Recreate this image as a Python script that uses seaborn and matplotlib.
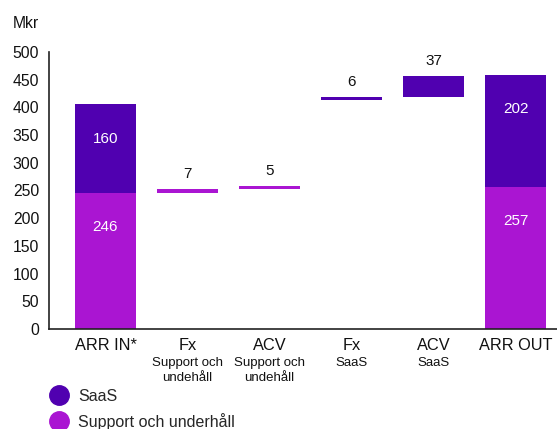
#%% Packages
import matplotlib
matplotlib.use("Agg")
import matplotlib.pyplot as plt
from matplotlib.lines import Line2D
import seaborn as sns
import pandas as pd

#%% Data
cat_keys = ["arr_in", "fx_sup", "acv_sup", "fx_saas", "acv_saas", "arr_out"]
main_labels = ["ARR IN*", "Fx", "ACV", "Fx", "ACV", "ARR OUT"]
sub_labels = ["", "Support och\nundehåll", "Support och\nundehåll", "SaaS", "SaaS", ""]

# support och underhåll layer
sup_cats = ["arr_in", "fx_sup", "acv_sup", "arr_out"]
sup_values = [246, 7, 5, 257]
sup_bottoms = [0, 246, 253, 0]

# SaaS layer
saas_cats = ["arr_in", "fx_saas", "acv_saas", "arr_out"]
saas_values = [160, 6, 37, 202]
saas_bottoms = [246, 413, 419, 257]

# which labels sit inside the bar (white) vs above it (black)
sup_inside = [True, False, False, True]
saas_inside = [True, False, False, True]

SAAS_COLOR = "#5000B0"
SUP_COLOR = "#AA15D2"

#%% Style
sns.set_theme(style="white")
plt.rcParams["font.family"] = ["Liberation Sans", "DejaVu Sans"]

fig = plt.figure(figsize=(5.57, 4.29), dpi=100)
ax = fig.add_axes([49 / 557, 100 / 429, 508 / 557, 277 / 429])

BAR_W = 0.744

#%% Bars
sup_df = pd.DataFrame({"cat": sup_cats, "val": sup_values})
saas_df = pd.DataFrame({"cat": saas_cats, "val": saas_values})

sns.barplot(data=sup_df, x="cat", y="val", order=cat_keys, color=SUP_COLOR,
            saturation=1, width=BAR_W, bottom=sup_bottoms, ax=ax,
            linewidth=0, errorbar=None)
sns.barplot(data=saas_df, x="cat", y="val", order=cat_keys, color=SAAS_COLOR,
            saturation=1, width=BAR_W, bottom=saas_bottoms, ax=ax,
            linewidth=0, errorbar=None)

#%% Value labels
def add_labels(cats, values, bottoms, inside):
    for c, v, b, ins in zip(cats, values, bottoms, inside):
        xi = cat_keys.index(c)
        top = b + v
        if ins:
            ax.annotate(str(v), (xi, top), xytext=(0, -25), textcoords="offset points",
                        ha="center", va="center", color="white", fontsize=11)
        else:
            ax.annotate(str(v), (xi, top), xytext=(0, 11), textcoords="offset points",
                        ha="center", va="center", color="#111111", fontsize=11)

add_labels(sup_cats, sup_values, sup_bottoms, sup_inside)
add_labels(saas_cats, saas_values, saas_bottoms, saas_inside)

#%% Axes
ax.set_xlim(-0.689, 5.506)
ax.set_ylim(0, 500)
ax.set_yticks(range(0, 501, 50))
ax.set_xticks(range(len(cat_keys)))
ax.set_xticklabels(main_labels)
ax.set_xlabel("")
ax.set_ylabel("")
ax.tick_params(axis="both", length=0, labelsize=11.3, colors="#111111")
ax.tick_params(axis="x", pad=6.5)
ax.tick_params(axis="y", pad=7)
for t in ax.get_xticklabels():
    t.set_fontsize(11.8)

sns.despine(ax=ax)
for s in ["left", "bottom"]:
    ax.spines[s].set_color("#222222")
    ax.spines[s].set_linewidth(1.2)

for i, sub in enumerate(sub_labels):
    if sub:
        ax.annotate(sub, (i, 0), xytext=(0, -20), textcoords="offset points",
                    ha="center", va="top", fontsize=9.5, color="#111111",
                    linespacing=1.32, annotation_clip=False)

fig.text(13 / 557, 1 - 23 / 429, "Mkr", ha="left", va="center", fontsize=11.3, color="#111111")

#%% Legend
handles = [Line2D([], [], marker="o", linestyle="none", markersize=14, color=SAAS_COLOR),
           Line2D([], [], marker="o", linestyle="none", markersize=14, color=SUP_COLOR)]
fig.legend(handles, ["SaaS", "Support och underhåll"], loc="upper left",
           bbox_to_anchor=(49.4 / 557, 1 - 389 / 429), frameon=False, fontsize=11.5,
           borderpad=0, borderaxespad=0, handlelength=1.2, handletextpad=0.6,
           labelspacing=0.55)

fig.savefig("out.png", dpi=100)
